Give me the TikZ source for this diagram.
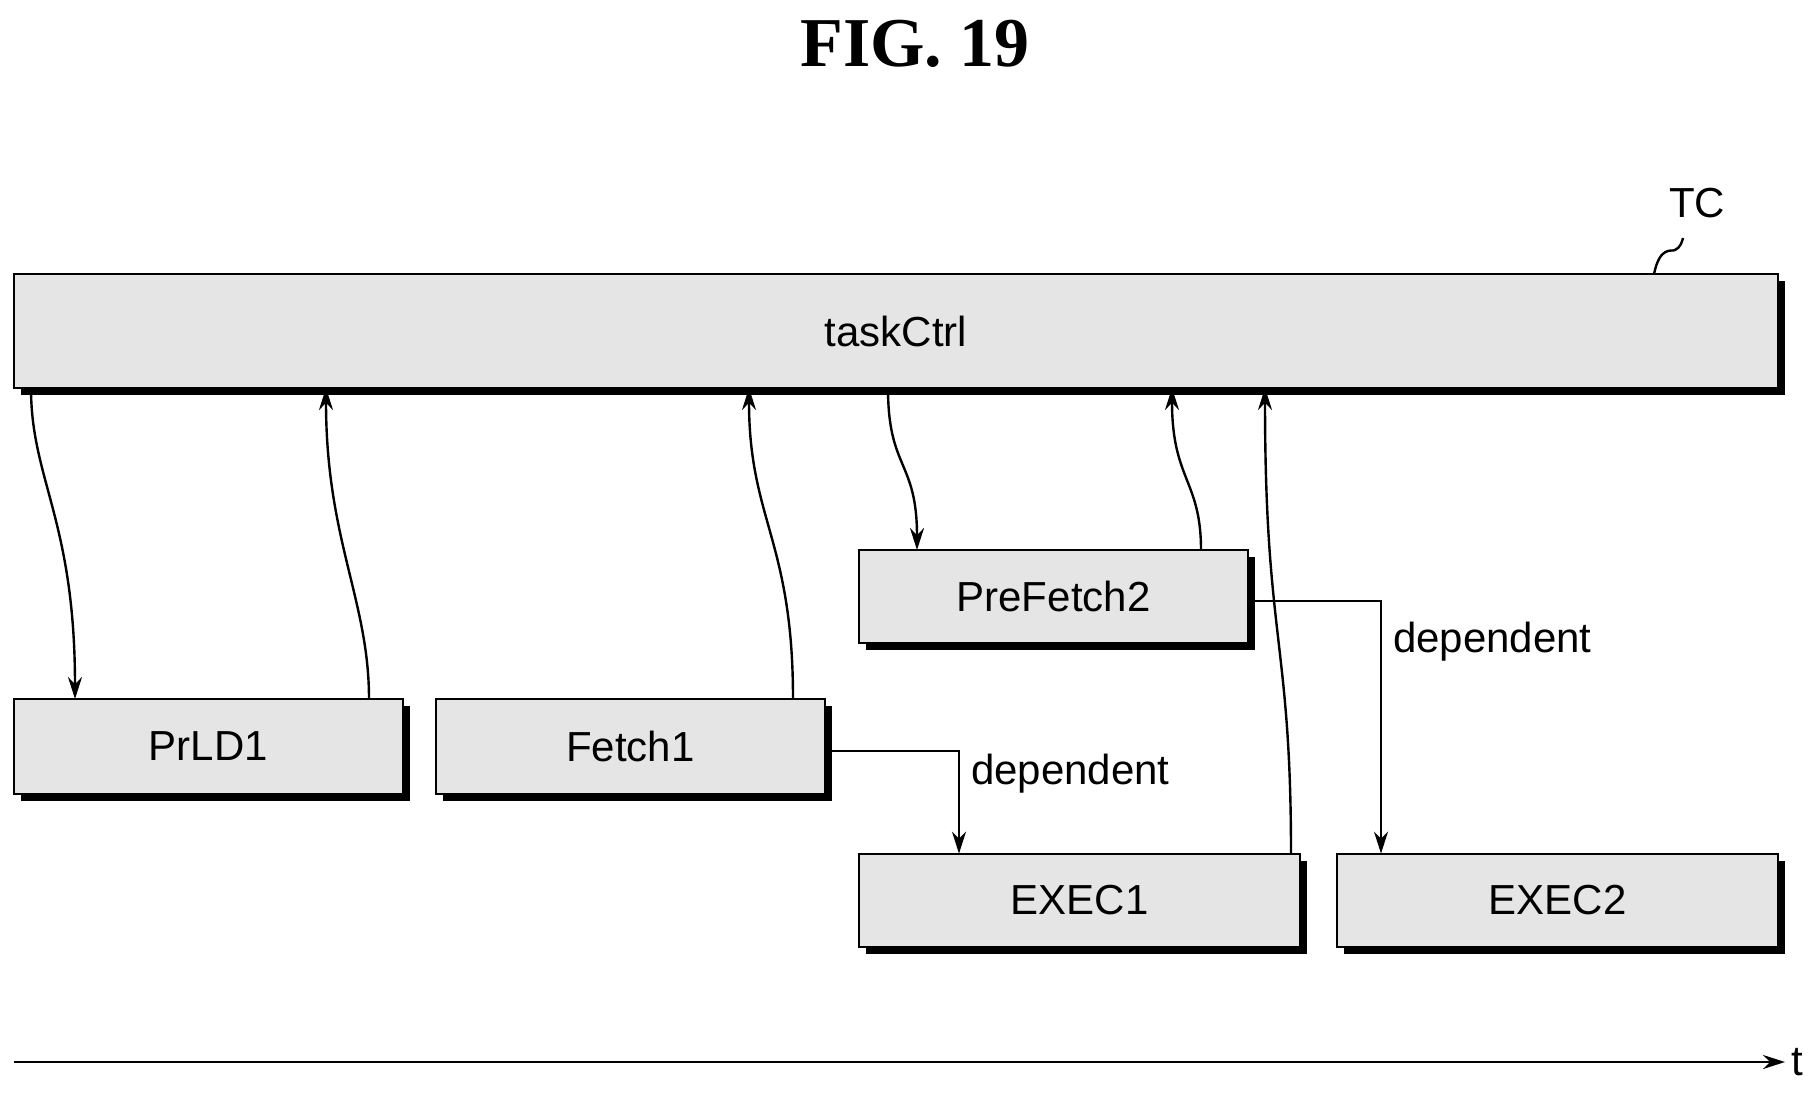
\documentclass[tikz,border=0pt]{standalone}
\usepackage{fontspec}
\setmainfont{Liberation Serif}
\setsansfont{Liberation Sans}
\usetikzlibrary{arrows.meta}
\begin{document}
\begin{tikzpicture}[x=0.5pt,y=-0.5pt,
  lbl/.style={font=\sffamily\fontsize{21}{24}\selectfont},
  arr/.style={line width=1.2pt,-{Stealth[length=11pt,width=7pt]}},
  cn/.style={line width=1.2pt}]
\useasboundingbox (0,0) rectangle (1820,1099);
\node[font=\bfseries\fontsize{35}{38}\selectfont] (title) at (915,44) {FIG. 19};
\newcommand{\myblk}[6]{%
  \fill[black] (#2+7,#3+7) rectangle (#4+7,#5+7);
  \draw[line width=1.2pt,fill=black!10] (#2,#3) rectangle (#4,#5);
  \node[lbl,minimum width={(#4-#2)*0.5pt},minimum height={(#5-#3)*0.5pt},inner sep=0pt] (#1) at ({(#2+#4)/2},{(#3+#5)/2}) {#6};}
\myblk{tc}{14}{274}{1778}{388}{taskCtrl}
\myblk{prld}{14}{699}{403}{794}{PrLD1}
\myblk{fetch}{436}{699}{825}{794}{Fetch1}
\myblk{pref}{859}{550}{1248}{643}{PreFetch2}
\myblk{exa}{859}{854}{1300}{947}{EXEC1}
\myblk{exb}{1337}{854}{1778}{947}{EXEC2}
\node[lbl] (tclab) at (1697,203) {TC};
\coordinate (tcs) at (1654,274);
\coordinate (tce) at (1683,238);
\draw[cn] (tcs) .. controls (1660,245) and (1672,252) .. (1675,250) .. controls (1680,248) and (1682,242) .. (tce);
% curved arrows
\draw[arr] (31,388) .. controls (31,480) and (75,520) .. (75,699);
\draw[arr] (369,699) .. controls (369,600) and (326,540) .. (326,388);
\draw[arr] (793,699) .. controls (793,540) and (749,520) .. (749,388);
\draw[arr] (888,388) .. controls (888,470) and (917,460) .. (917,550);
\draw[arr] (1201,550) .. controls (1201,480) and (1172,480) .. (1172,388);
\draw[arr] (1291,854) .. controls (1291,640) and (1265,640) .. (1265,388);
% dependent
\draw[arr] (fetch.east |- 0,751) -- (959,751) -- (exa.north -| 959,0);
\node[lbl,anchor=west] (d1) at (964,774) {dependent};
\draw[arr] (pref.east |- 0,601) -- (1381,601) -- (exb.north -| 1381,0);
\node[lbl,anchor=west] (d2) at (1386,642) {dependent};
% time axis
\coordinate (t0) at (14,1062);
\coordinate (t1) at (1785,1062);
\draw[arr] (t0) -- (t1);
\node[lbl,anchor=west,inner sep=2pt] (tl) at (1787,1062) {t};
\end{tikzpicture}
\end{document}
